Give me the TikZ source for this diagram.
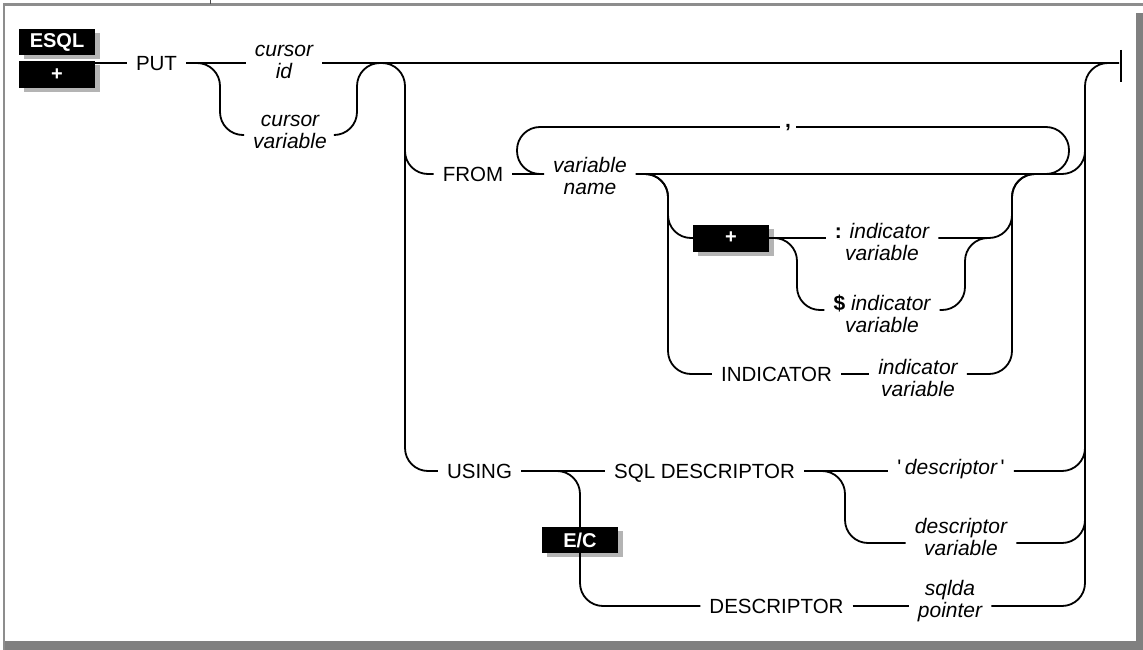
\documentclass[tikz,border=0pt]{standalone}
\usepackage{fontspec}
\setmainfont{Liberation Sans}
\usetikzlibrary{shadows}

\definecolor{framegray}{HTML}{808080}
\definecolor{shadegray}{HTML}{B4B4B4}

% two-line label, first baseline raised #1 above the rail
\newcommand\lbl[3]{\raisebox{#1}[0pt][0pt]{\begin{tabular}[t]{@{}c@{}}#2\\#3\end{tabular}}}

\tikzset{
  rail/.style={line width=1.8pt, rounded corners=23pt},
  kw/.style={font=\fontsize{20.5}{22}\selectfont, inner xsep=9pt, inner ysep=0pt,
    text height=14.7pt, text depth=0pt},
  var/.style={font=\fontsize{21}{22}\selectfont\itshape, inner xsep=9pt, inner ysep=0pt},
  tag/.style={fill=black, text=white, font=\fontsize{20}{20}\selectfont\bfseries,
    minimum width=76pt, minimum height=26pt, inner sep=0pt,
    drop shadow={shadow xshift=5pt, shadow yshift=-4pt, fill=shadegray, opacity=1}},
}

\begin{document}
\begin{tikzpicture}[x=1pt, y=-1pt]
  \useasboundingbox (0,0) rectangle (1143,650);
  % frame
  \fill[framegray] (1136,13) rectangle (1143,650);
  \fill[framegray] (3,641) rectangle (1143,650);
  \draw[framegray!90, line width=2.5pt] (4,650) -- (4,4.5) -- (1143,4.5);
  \draw[black!70, line width=1pt] (210.5,0) -- (210.5,4);

  % nodes
  \node[tag] (esql) at (57,42) {ESQL};
  \node[tag, minimum height=27pt] (plus) at (57,74.5) {+};
  \coordinate (start) at (95,63);
  \node[kw] (put) at (156.5,63) {PUT};
  \node[var] (cid) at (284,63) {\lbl{6pt}{cursor}{id}};
  \node[var] (cvar) at (290,135) {\lbl{8pt}{cursor}{variable}};
  \coordinate (split) at (380,63);
  \coordinate (stop) at (1119,63);

  \node[kw] (from) at (473,174) {FROM};
  \node[var] (vname) at (590,174) {\lbl{1.5pt}{variable}{name}};
  \node[var, inner xsep=5pt] (comma) at (788,127) {\raisebox{-1pt}[0pt][0pt]{\textbf{\upshape,}}};
  \node[tag, minimum height=27pt] (plus2) at (731,238) {+};
  \node[var] (colind) at (882,238) {\lbl{0pt}{\textbf{\upshape:} indicator}{variable}};
  \node[var] (dolind) at (882,310) {\lbl{0pt}{\textbf{\upshape\$} indicator}{variable}};
  \node[kw] (indkw) at (776.5,374) {INDICATOR};
  \node[var] (indvar) at (918,374) {\lbl{0pt}{indicator}{variable}};

  \node[kw] (using) at (479.5,471) {USING};
  \node[kw] (sqldesc) at (704.5,471) {SQL DESCRIPTOR};
  \node[var] (qdesc) at (951,471) {\raisebox{-3pt}[0pt][0pt]{\upshape\textquotesingle\,\itshape descriptor\,\upshape\textquotesingle}};
  \node[var] (descvar) at (961,543) {\lbl{10pt}{descriptor}{variable}};
  \node[tag] (ec) at (580,540) {E/C};
  \node[kw] (desckw) at (776.5,606) {DESCRIPTOR};
  \node[var] (sqlda) at (950,606) {\lbl{11pt}{sqlda}{pointer}};

  % verticals
  \coordinate (vput) at (220,0);
  \coordinate (vcur) at (357,0);
  \coordinate (vopt) at (405,0);
  \coordinate (vloopl) at (517,0);
  \coordinate (vloopr) at (1069,0);
  \coordinate (vindl) at (668,0);
  \coordinate (vindr) at (1012,0);
  \coordinate (vplusl) at (797,0);
  \coordinate (vplusr) at (965,0);
  \coordinate (vsql) at (845,0);
  \coordinate (vend) at (1085,0);
  \coordinate (m1) at (1040,174);
  \coordinate (m2) at (988,238);

  % main rail
  \draw[rail] (start) -- (put.west);
  \draw[rail] (put.east) -- (cid.west);
  \draw[rail] (cid.east) -- (stop);
  \draw[line width=1.5pt] (1121,50) -- (1121,82);
  \draw[rail] (put.east) -| (vput |- cvar) -- (cvar.west);
  \draw[rail] (cvar.east) -| (vcur |- put) -- (split);
  \draw[rail] (split) -| (vopt |- from) -- (from.west);
  \draw[rail] (vopt |- cvar) |- (using.west);

  % FROM
  \draw[rail] (from.east) -- (vname.west);
  \draw[rail] (vname.west) -| (vloopl |- comma) -- (comma.west);
  \draw[rail] (comma.east) -| (vloopr |- vname) -- (m1);
  \draw[rail] (vname.east) -| (vend |- cvar);
  \draw[rail] (vname.east) -| (vindl |- plus2) -- (plus2.west);
  \draw[rail] (vname.east) -| (vindl |- indkw) -- (indkw.west);
  \draw[rail] (plus2.east) -- (colind.west);
  \draw[rail] (plus2.east) -| (vplusl |- dolind) -- (dolind.west);
  \draw[rail] (dolind.east) -| (vplusr |- colind) -- (m2);
  \draw[rail] (colind.east) -| (vindr |- vname) -- (m1);
  \draw[rail] (indkw.east) -- (indvar.west);
  \draw[rail] (indvar.east) -| (vindr |- vname) -- (m1);

  % USING
  \draw[rail] (using.east) -- (sqldesc.west);
  \draw[rail] (using.east) -| (ec.north);
  \draw[rail] (ec.south) |- (desckw.west);
  \draw[rail] (desckw.east) -- (sqlda.west);
  \draw[rail] (sqldesc.east) -- (qdesc.west);
  \draw[rail] (sqldesc.east) -| (vsql |- descvar) -- (descvar.west);
  \draw[rail] (qdesc.east) -| (vend |- vname);
  \draw[rail] (descvar.east) -| (vend |- qdesc);
  \draw[rail] (sqlda.east) -| (vend |- descvar);
  \draw[rail] (vend |- descvar) |- (stop);
\end{tikzpicture}
\end{document}
